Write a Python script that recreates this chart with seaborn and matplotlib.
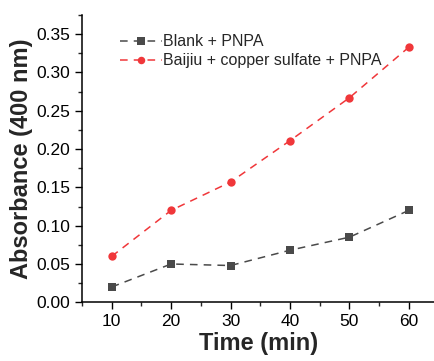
import numpy as np
import pandas as pd
import matplotlib
matplotlib.use("Agg")
import matplotlib.pyplot as plt
import seaborn as sns
from matplotlib.ticker import MultipleLocator

# data
time_min = [10, 20, 30, 40, 50, 60]
blank = [0.020, 0.050, 0.048, 0.068, 0.085, 0.120]
baijiu = [0.060, 0.120, 0.157, 0.211, 0.267, 0.333]
series_names = ["Blank + PNPA", "Baijiu + copper sulfate + PNPA"]

df = pd.DataFrame({
    "Time": time_min * 2,
    "Absorbance": blank + baijiu,
    "Sample": [series_names[0]] * len(time_min) + [series_names[1]] * len(time_min),
})

sns.set_style("ticks")
plt.rcParams["font.family"] = ["Liberation Sans", "DejaVu Sans"]

fig = plt.figure(figsize=(4.35, 3.61), dpi=100)
ax = fig.add_axes([82 / 435, 1 - 302.3 / 361, 1 - 82 / 435, (302.3 - 15) / 361])

palette = {series_names[0]: "#4a4a4a", series_names[1]: "#f0373a"}
markers = {series_names[0]: "s", series_names[1]: "o"}
sns.lineplot(data=df, x="Time", y="Absorbance", hue="Sample", style="Sample",
             palette=palette, markers=markers, dashes={k: (5, 4) for k in series_names},
             markersize=6, markeredgewidth=0, linewidth=1.1, ax=ax)

ax.set_xlim(5, 64.4)
ax.set_ylim(0, 0.375)
ax.xaxis.set_major_locator(MultipleLocator(10))
ax.xaxis.set_minor_locator(MultipleLocator(5))
ax.yaxis.set_major_locator(MultipleLocator(0.05))
ax.yaxis.set_minor_locator(MultipleLocator(0.025))
ax.yaxis.set_major_formatter(plt.FuncFormatter(lambda v, p: f"{v:.2f}"))
ax.tick_params(which="major", direction="out", length=5, width=1, labelsize=12.5, colors="black")
ax.tick_params(which="minor", direction="out", length=3, width=1)
for s in ["top", "right"]:
    ax.spines[s].set_visible(False)
for s in ["left", "bottom"]:
    ax.spines[s].set_linewidth(1.1)
    ax.spines[s].set_color("black")

ax.set_xlabel("Time (min)", fontsize=17, fontweight="bold", labelpad=2)
ax.set_ylabel("Absorbance (400 nm)", fontsize=17, fontweight="bold", labelpad=2)

leg = ax.legend(loc="upper left", bbox_to_anchor=(0.09, 0.955), frameon=False,
                fontsize=11.5, handlelength=2.6, handletextpad=0.1,
                labelspacing=0.25, borderaxespad=0, markerscale=0.9)

fig.savefig("out.png", dpi=100)
